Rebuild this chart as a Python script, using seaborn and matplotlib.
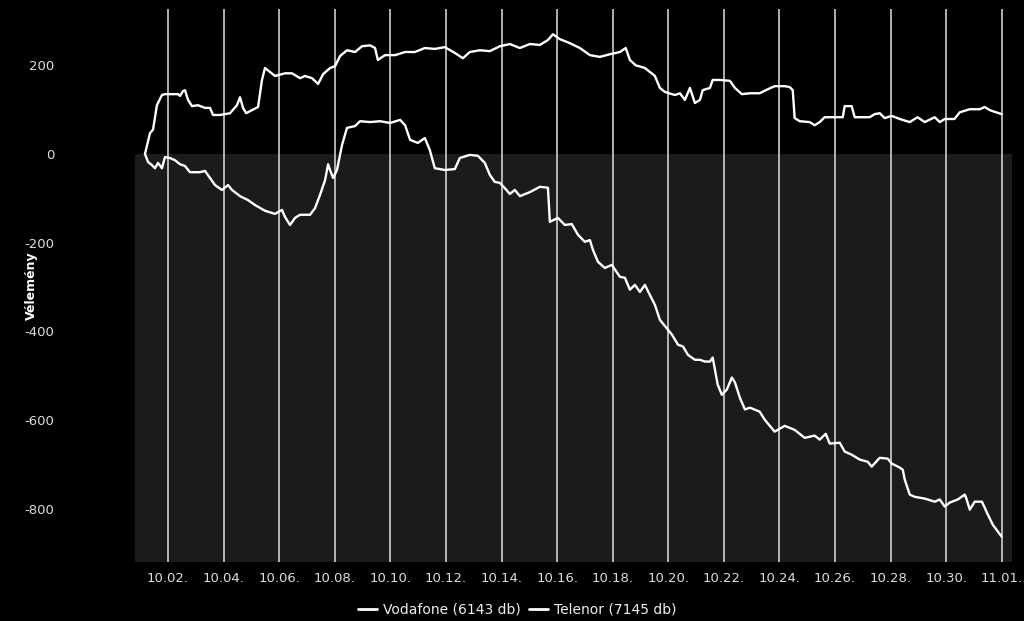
import pandas as pd
import numpy as np
import matplotlib
matplotlib.use("Agg")
import matplotlib.pyplot as plt
import matplotlib.dates as mdates
import seaborn as sns

# =========================
# Adatok (nap = október napja, 32 = nov. 1.)
# =========================

vodafone_day = [
    1.17, 1.35, 1.46, 1.60, 1.78, 1.89, 2.36, 2.43, 2.54, 2.61, 2.72, 2.86,
    3.08, 3.33, 3.51, 3.62, 3.87, 4.23, 4.48, 4.59, 4.70, 4.81, 5.02, 5.24,
    5.38, 5.49, 5.67, 5.85, 6.21, 6.46, 6.75, 6.93, 7.18, 7.40, 7.58, 7.83,
    8.01, 8.19, 8.44, 8.73, 8.98, 9.27, 9.45, 9.55, 9.81, 10.17, 10.53, 10.88,
    11.24, 11.60, 11.96, 12.32, 12.61, 12.86, 13.22, 13.58, 13.94, 14.30,
    14.66, 15.02, 15.38, 15.67, 15.85, 16.10, 16.46, 16.82, 17.18, 17.54,
    17.90, 18.26, 18.47, 18.62, 18.83, 19.16, 19.52, 19.70, 19.88, 20.24,
    20.42, 20.60, 20.78, 20.96, 21.14, 21.24, 21.50, 21.60, 21.86, 22.22,
    22.40, 22.65, 22.94, 23.29, 23.58, 23.83, 24.19, 24.37, 24.48, 24.55,
    24.73, 25.09, 25.27, 25.45, 25.63, 25.99, 26.28, 26.35, 26.60, 26.71,
    27.25, 27.43, 27.61, 27.79, 28.04, 28.33, 28.69, 28.97, 29.23, 29.59,
    29.77, 29.95, 30.30, 30.49, 30.85, 31.21, 31.39, 31.57, 31.75, 32.00,
]
vodafone_val = [
    0, 47, 55, 110, 133, 135, 135, 131, 142, 144, 122, 108,
    110, 104, 104, 88, 88, 92, 110, 128, 104, 92, 99, 106,
    167, 194, 185, 176, 182, 182, 171, 176, 171, 158, 180, 194,
    198, 221, 234, 230, 243, 245, 239, 212, 223, 223, 230, 230,
    239, 237, 241, 228, 216, 230, 234, 232, 243, 248,
    239, 248, 246, 257, 270, 259, 250, 239, 223, 219,
    225, 230, 239, 212, 200, 194, 176, 149, 140, 133,
    137, 122, 149, 115, 122, 144, 149, 167, 167, 165,
    149, 135, 137, 137, 146, 153, 153, 151, 144, 81,
    74, 72, 65, 72, 83, 83, 83, 108, 108, 83,
    83, 90, 92, 81, 86, 79, 72, 83, 72, 83,
    72, 79, 79, 94, 101, 101, 106, 99, 95, 90,
]

telenor_day = [
    1.17, 1.28, 1.42, 1.53, 1.64, 1.78, 1.89, 2.07, 2.25, 2.43, 2.61, 2.79,
    3.15, 3.33, 3.51, 3.69, 3.94, 4.16, 4.30, 4.59, 4.88, 5.13, 5.49, 5.85,
    6.10, 6.21, 6.39, 6.57, 6.75, 7.11, 7.29, 7.47, 7.65, 7.76, 7.83, 7.94,
    8.08, 8.26, 8.44, 8.73, 8.91, 9.27, 9.63, 9.99, 10.35, 10.53, 10.71,
    10.99, 11.24, 11.42, 11.60, 11.96, 12.32, 12.50, 12.86, 13.15, 13.40,
    13.58, 13.76, 13.94, 14.12, 14.30, 14.48, 14.66, 15.02, 15.38, 15.67,
    15.74, 16.03, 16.28, 16.53, 16.75, 17.00, 17.18, 17.29, 17.47, 17.72,
    17.97, 18.26, 18.44, 18.62, 18.80, 18.98, 19.16, 19.34, 19.52, 19.70,
    19.99, 20.13, 20.35, 20.53, 20.71, 20.96, 21.14, 21.32, 21.50, 21.60,
    21.78, 21.93, 22.11, 22.29, 22.40, 22.58, 22.76, 22.94, 23.29, 23.47,
    23.83, 24.19, 24.55, 24.91, 25.27, 25.45, 25.67, 25.81, 26.17, 26.35,
    26.60, 26.89, 27.18, 27.32, 27.61, 27.90, 28.04, 28.33, 28.44, 28.51,
    28.69, 28.87, 29.23, 29.59, 29.77, 29.95, 30.13, 30.42, 30.67, 30.74,
    30.85, 31.03, 31.29, 31.50, 31.68, 32.00,
]
telenor_val = [
    0, -18, -25, -32, -20, -32, -7, -9, -14, -23, -27, -41,
    -41, -38, -54, -70, -81, -70, -81, -95, -104, -115, -128, -135,
    -126, -142, -160, -144, -137, -137, -122, -92, -59, -23, -36, -54,
    -36, 20, 59, 63, 74, 72, 74, 70, 77, 65, 32,
    25, 36, 9, -32, -36, -34, -9, -2, -4, -20,
    -47, -63, -65, -77, -90, -81, -95, -86, -74, -76,
    -153, -144, -160, -158, -182, -198, -194, -216, -243, -257,
    -250, -277, -279, -306, -295, -311, -295, -318, -340, -374,
    -396, -407, -430, -434, -453, -464, -464, -468, -468, -459,
    -520, -543, -531, -504, -515, -550, -576, -572, -581, -599,
    -626, -613, -622, -640, -635, -644, -631, -653, -651, -671,
    -678, -689, -694, -705, -685, -687, -698, -707, -712, -734,
    -768, -773, -777, -784, -779, -795, -786, -779, -768, -779,
    -802, -784, -784, -813, -836, -863,
]

series_names = ["Vodafone (6143 db)", "Telenor (7145 db)"]
tick_days = list(range(2, 33, 2))
y_ticks = [200, 0, -200, -400, -600, -800]

# =========================
# Tábla felépítése
# =========================

base = pd.Timestamp("2013-10-01")


def to_time(days):
    return base + pd.to_timedelta(np.array(days) - 1, unit="D")


df = pd.concat([
    pd.DataFrame({"ido": to_time(vodafone_day), "ertek": vodafone_val,
                  "szolgaltato": series_names[0]}),
    pd.DataFrame({"ido": to_time(telenor_day), "ertek": telenor_val,
                  "szolgaltato": series_names[1]}),
])

# =========================
# Rajz
# =========================

sns.set_style("dark")
plt.rcParams["font.family"] = ["DejaVu Sans"]
plt.rcParams["axes.unicode_minus"] = False

fig = plt.figure(figsize=(10.24, 6.21), dpi=100, facecolor="black")
ax = fig.add_axes([0.1318, 0.095, 0.8562, 0.8905])
ax.set_facecolor("black")

ymin, ymax = -920, 327
ax.axhspan(ymin, 0, color="#1b1b1b", zorder=0, lw=0)

for d in tick_days:
    ax.axvline(to_time([d])[0], color="#e0e0e0", lw=1.1, zorder=1)

sns.lineplot(
    data=df, x="ido", y="ertek", hue="szolgaltato",
    palette=["white", "white"], linewidth=1.7, ax=ax, legend=False,
    estimator=None, sort=False, zorder=3,
)

ax.set_xlim(to_time([0.81])[0], to_time([32.36])[0])
ax.set_ylim(ymin, ymax)

ax.set_xticks(to_time(tick_days))
ax.xaxis.set_major_formatter(mdates.DateFormatter("%m.%d."))
ax.set_yticks(y_ticks)
ax.grid(False)
for s in ax.spines.values():
    s.set_visible(False)

ax.tick_params(axis="x", length=0, pad=7, labelsize=9.5, colors="#dddddd")
ax.tick_params(axis="y", length=0, pad=58, labelsize=9.5, colors="#dddddd")
for lab in ax.get_yticklabels():
    lab.set_horizontalalignment("right")

ax.set_xlabel("")
ax.set_ylabel("Vélemény", color="white", fontsize=9, fontweight="bold")
ax.yaxis.set_label_coords(-0.111, 0.5)

handles = [plt.Line2D([], [], color="white", lw=2) for _ in series_names]
fig.legend(handles, series_names, loc="center", bbox_to_anchor=(0.505, 0.018),
           ncol=2, frameon=False, fontsize=10, labelcolor="#eeeeee",
           handlelength=1.4, handletextpad=0.4, columnspacing=0.6)

fig.savefig("out.png", dpi=100, facecolor="black")
